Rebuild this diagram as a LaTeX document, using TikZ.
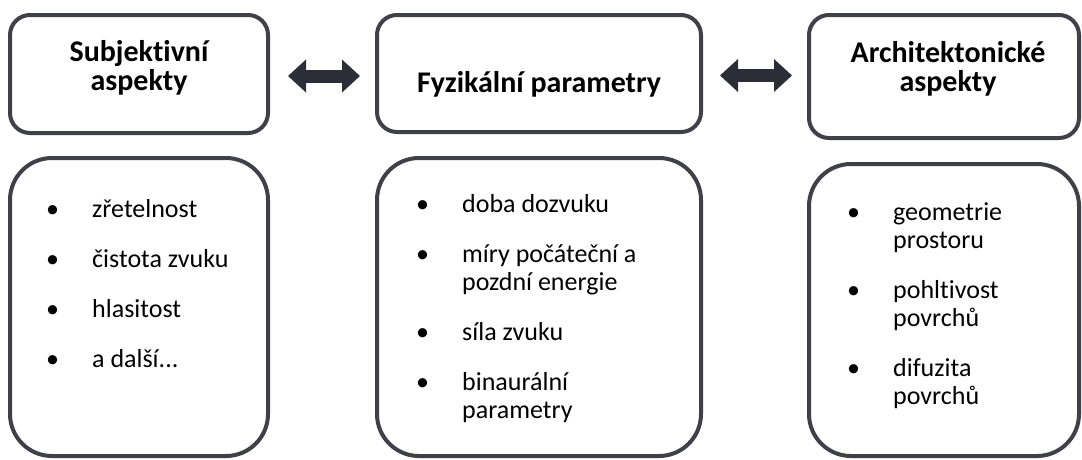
\documentclass[tikz,border=0pt]{standalone}
\usepackage{fontspec}
\setmainfont[Ligatures=NoCommon]{Carlito}
\usetikzlibrary{arrows.meta}

\definecolor{ramecek}{RGB}{64,64,72}
\definecolor{sipkabarva}{RGB}{45,45,56}

% jedna polozka seznamu s odrazkou
\newcommand{\bod}[1]{\hangindent=46pt\hangafter=1\makebox[46pt][l]{•}#1\par}

\tikzset{
  box/.style={draw=ramecek, line width=4pt, rounded corners=20pt, fill=white},
  boxdole/.style={box, rounded corners=42pt},
  nadpis/.style={font=\bfseries\fontsize{30}{29}\selectfont, text width=#1,
    align=flush center, anchor=base, inner sep=0pt},
  seznam/.style={font=\fontsize{26}{28}\selectfont, text width=230pt,
    align=flush left, anchor=base west, inner sep=0pt,
    execute at begin node=\setlength{\parskip}{22pt}},
  sipka/.style={line width=13pt, draw=sipkabarva,
    {Triangle[length=18pt,width=33pt,line width=0pt]}-{Triangle[length=18pt,width=33pt,line width=0pt]}}
}

\begin{document}
\begin{tikzpicture}[x=1pt, y=-1pt]
      \useasboundingbox (0,0) rectangle (1082,459);
      % horni rada
      \node [box, minimum width=258pt, minimum height=118pt] (subj) at (139,74) {};
      \node [box, minimum width=324pt, minimum height=117pt] (fyz) at (539,73.5) {};
      \node [box, minimum width=270pt, minimum height=123pt] (arch) at (944,76.5) {};
      \node [nadpis=258pt] (subjtext) at (139,61) {Subjektivní\\aspekty};
      \node [nadpis=324pt] (fyztext) at (539,92) {Fyzikální parametry};
      \node [nadpis=270pt] (archtext) at (948,62) {Architektonické\\aspekty};
      % sipky
      \draw [sipka, shorten <=18pt, shorten >=15pt]
        ([yshift=-2pt]subj.east) -- ([yshift=-2pt]subj.east -| fyz.west);
      \draw [sipka, shorten <=17pt, shorten >=15pt]
        ([yshift=-2pt]fyz.east) -- ([yshift=-2pt]fyz.east -| arch.west);
      % dolni rada
      \node [boxdole, minimum width=258pt, minimum height=298pt] (subjbox) at (139,307) {};
      \node [boxdole, minimum width=324pt, minimum height=298pt] (fyzbox) at (539,307) {};
      \node [boxdole, minimum width=270pt, minimum height=292pt] (archbox) at (944,310) {};
      \node [seznam] (subjseznam) at (46,217) {%
        \bod{zřetelnost}\bod{čistota zvuku}\bod{hlasitost}\bod{a další...}};
      \node [seznam] (fyzseznam) at (416,212) {%
        \bod{doba dozvuku}\bod{míry počáteční a\newline pozdní energie}%
        \bod{síla zvuku}\bod{binaurální\newline parametry}};
      \node [seznam] (archseznam) at (847,220) {%
        \bod{geometrie\newline prostoru}\bod{pohltivost\newline povrchů}%
        \bod{difuzita\newline povrchů}};
    \end{tikzpicture}
\end{document}
